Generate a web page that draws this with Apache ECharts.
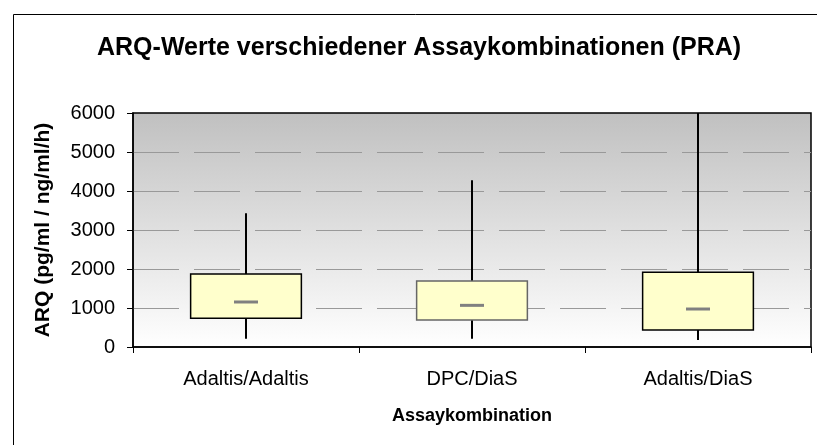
<!DOCTYPE html>
<html>
<head>
<meta charset="utf-8">
<script src="https://cdn.jsdelivr.net/npm/echarts@6/dist/echarts.min.js"></script>
<style>
  html, body { margin: 0; padding: 0; background: #fff; }
  #chart { width: 817px; height: 445px; }
</style>
</head>
<body>
<div id="chart"></div>
<script>
// Boxplot-Werte je Assaykombination
const categories = ["Adaltis/Adaltis", "DPC/DiaS", "Adaltis/DiaS"];
const minValues = [213, 213, 180];
const q1Values = [736, 692, 436];
const medianValues = [1154, 1068, 974];
const q3Values = [1872, 1692, 1915];
const maxValues = [3428, 4274, 6000];
const boxBorders = ["#000", "#666", "#000"];

const font = 'Arial, "Liberation Sans", sans-serif';

const boxData = categories.map((c, i) => [
  i, minValues[i], q1Values[i], medianValues[i], q3Values[i], maxValues[i],
]);

/* Excel-artiger Boxplot: Box, Median-Strich, Whisker ohne Enden */
const renderBox = (params, api) => {
  const x = api.value(0);
  const lo = api.coord([x, api.value(1)]);
  const q1 = api.coord([x, api.value(2)]);
  const med = api.coord([x, api.value(3)]);
  const q3 = api.coord([x, api.value(4)]);
  const hi = api.coord([x, api.value(5)]);
  const bw = api.size([1, 0])[0] * 0.49;
  return {
    type: "group",
    children: [
      {
        type: "line",
        shape: { x1: lo[0], y1: lo[1], x2: hi[0], y2: hi[1] },
        style: { stroke: "#000", lineWidth: 2 },
      },
      {
        type: "rect",
        shape: { x: q3[0] - bw / 2, y: q3[1], width: bw, height: q1[1] - q3[1] },
        style: { fill: "#FFFFCC", stroke: boxBorders[params.dataIndex], lineWidth: 1.5 },
      },
      {
        type: "line",
        shape: { x1: med[0] - 12, y1: med[1], x2: med[0] + 12, y2: med[1] },
        style: { stroke: "#808080", lineWidth: 3 },
      },
    ],
  };
};

let myChart = echarts.init(document.getElementById("chart"));
let option = {
  animation: false,
  title: {
    text: "ARQ-Werte verschiedener Assaykombinationen (PRA)",
    left: 92,
    top: 31,
    textStyle: { fontFamily: font, fontSize: 25, fontWeight: "bold", color: "#000" },
  },
  graphic: [
    {
      type: "rect",
      left: 11,
      top: 12,
      shape: { width: 1000, height: 600 },
      style: { fill: "none", stroke: "#000", lineWidth: 1 },
      silent: true,
    },
  ],
  grid: {
    left: 133,
    right: 6,
    top: 113,
    bottom: 98,
    show: true,
    borderColor: "#000",
    borderWidth: 1.5,
    backgroundColor: {
      type: "linear",
      x: 0, y: 0, x2: 0, y2: 1,
      colorStops: [
        { offset: 0, color: "#C0C0C0" },
        { offset: 1, color: "#FFFFFF" },
      ],
    },
    outerBoundsMode: "none",
  },
  xAxis: {
    type: "category",
    data: categories,
    boundaryGap: true,
    name: "Assaykombination",
    nameLocation: "middle",
    nameGap: 60,
    nameTextStyle: { fontFamily: font, fontSize: 18, fontWeight: "bold", color: "#000" },
    axisLine: { lineStyle: { color: "#000", width: 1.5 } },
    axisTick: { show: true, length: 6, lineStyle: { color: "#000" } },
    axisLabel: { fontFamily: font, fontSize: 20, color: "#000", margin: 22 },
    splitLine: { show: false },
  },
  yAxis: {
    type: "value",
    min: 0,
    max: 6000,
    interval: 1000,
    name: "ARQ (pg/ml / ng/ml/h)",
    nameLocation: "middle",
    nameGap: 79,
    nameTextStyle: { fontFamily: font, fontSize: 21, fontWeight: "bold", color: "#000" },
    axisLine: { show: true, lineStyle: { color: "#000", width: 1.5 } },
    axisTick: { show: true, length: 6, lineStyle: { color: "#000" } },
    axisLabel: {
      fontFamily: font,
      fontSize: 20,
      color: "#000",
      margin: 18,
      formatter: (v) => String(v),
    },
    splitLine: {
      show: true,
      showMinLine: false,
      showMaxLine: false,
      lineStyle: { color: "#999", width: 1, type: [46, 15] },
    },
  },
  series: [
    {
      type: "custom",
      renderItem: renderBox,
      encode: { x: 0, y: [1, 2, 3, 4, 5] },
      data: boxData,
      z: 3,
    },
  ],
};
option && myChart.setOption(option);
</script>
</body>
</html>
